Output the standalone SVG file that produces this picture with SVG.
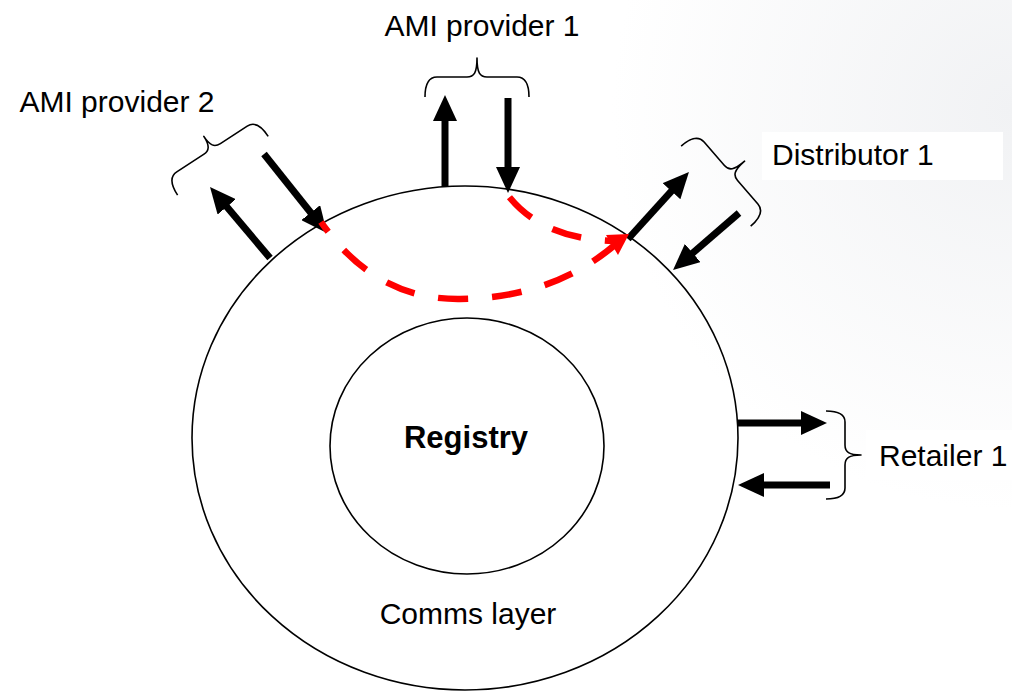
<svg xmlns="http://www.w3.org/2000/svg" width="1012" height="693" viewBox="0 0 1012 693">
<defs>
<radialGradient id="bg" cx="1012" cy="110" r="400" gradientUnits="userSpaceOnUse">
<stop offset="0" stop-color="#f1f2f4"/>
<stop offset="1" stop-color="#ffffff"/>
</radialGradient>
<marker id="ah" viewBox="-2 0 26 24" refX="0" refY="12" markerUnits="userSpaceOnUse" markerWidth="26" markerHeight="24" orient="auto">
<path d="M-2,0 L24,12 L-2,24 Z" fill="#000"/>
</marker>
</defs>
<style>
text{font-family:"Liberation Sans",Arial,sans-serif;font-size:30px;fill:#000}
.ring{fill:none;stroke:#000;stroke-width:1.6}
.arr{stroke:#000;stroke-width:7;fill:none;marker-end:url(#ah)}
.br{fill:none;stroke:#000;stroke-width:1.6;stroke-linejoin:round}
.flow{fill:none;stroke:#ff0000;stroke-width:6.5;stroke-dasharray:30 24}
.lbl{fill:#fff}
</style>
<rect width="1012" height="693" fill="url(#bg)"/>
<rect class="lbl" x="367" y="0" width="240" height="52"/>
<rect class="lbl" x="762" y="132" width="241" height="48"/>
<rect class="lbl" x="866" y="430" width="146" height="50"/>

<g id="comms-layer">
<ellipse class="ring" cx="465" cy="438" rx="273" ry="252"/>
<text x="468" y="624" text-anchor="middle">Comms layer</text>
</g>
<g id="registry">
<ellipse class="ring" cx="467" cy="446" rx="137" ry="128"/>
<text x="466" y="448" text-anchor="middle" font-weight="bold" style="font-size:31px">Registry</text>
</g>

<g id="ami-provider-1">
<path class="br" transform="translate(477,77)" d="M-52,20 Q-52,0 -40,0 L-10,0 C-3,0 0,-4 0,-19 C0,-4 3,0 10,0 L40,0 Q52,0 52,20"/>
<text x="482" y="36" text-anchor="middle">AMI provider 1</text>
</g>
<g id="ami-provider-2">
<path class="br" transform="translate(212,149) rotate(-33)" d="M-54,20 Q-54,0 -42,0 L-10,0 C-3,0 0,-4 0,-15 C0,-4 3,0 10,0 L42,0 Q54,0 54,20"/>
<text x="117" y="112" text-anchor="middle">AMI provider 2</text>
</g>
<g id="distributor-1">
<path class="br" transform="translate(731,173) rotate(49)" d="M-53,20 Q-53,0 -41,0 L-10,0 C-3,0 0,-4 0,-18 C0,-4 3,0 10,0 L41,0 Q53,0 53,20"/>
<text x="772" y="165">Distributor 1</text>
</g>
<g id="retailer-1">
<path class="br" transform="translate(845,455) rotate(90)" d="M-44,19 Q-44,0 -33,0 L-10,0 C-3,0 0,-4 0,-16 C0,-4 3,0 10,0 L33,0 Q44,0 44,19"/>
<text x="879" y="466">Retailer 1</text>
</g>

<g id="connectors">
<line class="arr" x1="445" y1="187" x2="445" y2="119"/>
<line class="arr" x1="508" y1="98" x2="508" y2="169"/>
<line class="arr" x1="270" y1="258" x2="225.5" y2="205.3"/>
<line class="arr" x1="264" y1="154" x2="312" y2="214.2"/>
<line class="arr" x1="628" y1="239" x2="672.8" y2="189.7"/>
<line class="arr" x1="739" y1="213" x2="691.2" y2="254.3"/>
<line class="arr" x1="738" y1="423" x2="803" y2="423"/>
<line class="arr" x1="830" y1="485" x2="762" y2="485"/>
<path class="flow" d="M321,222 Q375,300 460,299 Q553,298 616,244" stroke-dashoffset="18"/>
<path class="flow" d="M507,194 Q540,238 612,241" stroke-dashoffset="-4"/>
<polygon points="629,234 606,235 618,255" fill="#ff0000"/>
</g>
</svg>
